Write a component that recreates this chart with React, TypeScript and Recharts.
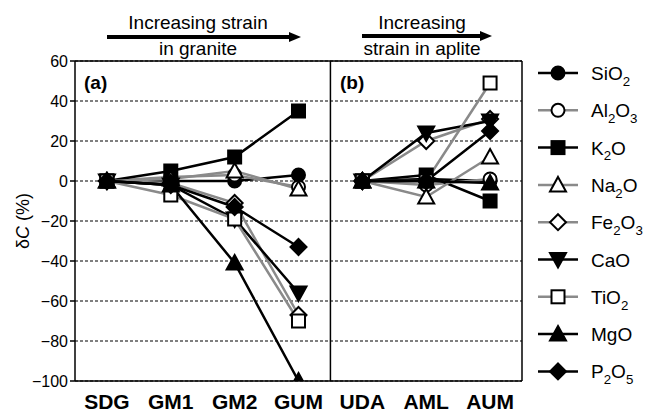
import React from "react";
import {
  LineChart,
  Line,
  XAxis,
  YAxis,
  CartesianGrid,
  ReferenceLine,
} from "recharts";

// categories: 4 granite samples (panel a) then 3 aplite samples (panel b)
const categories = ["SDG", "GM1", "GM2", "GUM", "UDA", "AML", "AUM"];
const panelSplit = 4;

// δC (%) values, one per category
const sio2 = [0, 0, 0, 3, 0, 1, 0];
const al2o3 = [0, 2, 3, -3, 0, -2, 1];
const k2o = [0, 5, 12, 35, 0, 3, -10];
const na2o = [0, 1, 5, -4, 0, -8, 12];
const fe2o3 = [0, -1, -11, -67, 0, 20, 31];
const cao = [0, -2, -19, -56, 0, 24, 30];
const tio2 = [0, -7, -19, -70, 0, 0, 49];
const mgo = [0, -2, -41, -100, 0, 0, -1];
const p2o5 = [0, -2, -13, -33, 0, 0, 25];

const yTicks = [-100, -80, -60, -40, -20, 0, 20, 40, 60];

const BLACK = "#000";
const GREY = "#8a8a8a";
const FONT = "'Liberation Sans', Arial, Helvetica, sans-serif";

type Shape = "circle" | "square" | "triUp" | "triDown" | "diamond";

const series: { name: string; values: number[]; color: string; shape: Shape; filled: boolean }[] = [
  { name: "SiO2", values: sio2, color: BLACK, shape: "circle", filled: true },
  { name: "Al2O3", values: al2o3, color: GREY, shape: "circle", filled: false },
  { name: "K2O", values: k2o, color: BLACK, shape: "square", filled: true },
  { name: "Na2O", values: na2o, color: GREY, shape: "triUp", filled: false },
  { name: "Fe2O3", values: fe2o3, color: GREY, shape: "diamond", filled: false },
  { name: "CaO", values: cao, color: BLACK, shape: "triDown", filled: true },
  { name: "TiO2", values: tio2, color: GREY, shape: "square", filled: false },
  { name: "MgO", values: mgo, color: BLACK, shape: "triUp", filled: true },
  { name: "P2O5", values: p2o5, color: BLACK, shape: "diamond", filled: true },
];

// one row per category; each oxide split in two keys so the panels don't join up
const data = categories.map((c, i) => {
  const row: Record<string, number | string | null> = { x: i, cat: c };
  series.forEach((s) => {
    row[s.name + "_a"] = i < panelSplit ? s.values[i] : null;
    row[s.name + "_b"] = i >= panelSplit ? s.values[i] : null;
  });
  return row;
});

function Marker({ shape, filled, cx, cy }: { shape: Shape; filled: boolean; cx: number; cy: number }) {
  const fill = filled ? BLACK : "#fff";
  const sw = 2;
  if (shape === "circle") return <circle cx={cx} cy={cy} r={6.5} fill={fill} stroke={BLACK} strokeWidth={sw} />;
  if (shape === "square")
    return <rect x={cx - 6.5} y={cy - 6.5} width={13} height={13} fill={fill} stroke={BLACK} strokeWidth={sw} />;
  if (shape === "diamond")
    return (
      <polygon
        points={`${cx},${cy - 8} ${cx + 8},${cy} ${cx},${cy + 8} ${cx - 8},${cy}`}
        fill={fill}
        stroke={BLACK}
        strokeWidth={sw}
      />
    );
  if (shape === "triUp")
    return (
      <polygon
        points={`${cx},${cy - 8} ${cx + 8},${cy + 6.5} ${cx - 8},${cy + 6.5}`}
        fill={fill}
        stroke={BLACK}
        strokeWidth={sw}
      />
    );
  return (
    <polygon
      points={`${cx},${cy + 8} ${cx + 8},${cy - 6.5} ${cx - 8},${cy - 6.5}`}
      fill={fill}
      stroke={BLACK}
      strokeWidth={sw}
    />
  );
}

// chemical formula with digits as subscripts
function Formula({ text, x, y, size }: { text: string; x: number; y: number; size: number }) {
  const parts = text.match(/\d+|\D+/g) || [];
  const shift = size * 0.3;
  let sub = false;
  return (
    <text x={x} y={y} fontSize={size} fontFamily={FONT} fill={BLACK}>
      {parts.map((p, i) => {
        const isNum = /\d/.test(p);
        const dy = isNum && !sub ? shift : !isNum && sub ? -shift : 0;
        sub = isNum;
        return (
          <tspan key={i} dy={dy} fontSize={isNum ? size * 0.7 : size}>
            {p}
          </tspan>
        );
      })}
    </text>
  );
}

function Arrow({ x1, x2, y }: { x1: number; x2: number; y: number }) {
  return (
    <g>
      <line x1={x1} y1={y} x2={x2 - 9} y2={y} stroke={BLACK} strokeWidth={4} />
      <polygon points={`${x2},${y} ${x2 - 12},${y - 5} ${x2 - 12},${y + 5}`} fill={BLACK} />
    </g>
  );
}

const fmtY = (v: number) => (v < 0 ? `\u2212${-v}` : `${v}`);

export default function App() {
  return (
    <div style={{ position: "absolute", left: 0, top: 0, width: 646, height: 414, background: "#fff", fontFamily: FONT }}>
      <LineChart width={646} height={414} data={data} margin={{ top: 61, right: 124, bottom: 0, left: 0 }}>
        <CartesianGrid vertical={false} stroke={BLACK} strokeDasharray="3 2" strokeWidth={1.2} />
        <XAxis
          dataKey="x"
          type="number"
          domain={[-0.5, 6.5]}
          ticks={[0, 1, 2, 3, 4, 5, 6]}
          tickFormatter={(i: number) => categories[i]}
          tickLine={false}
          tickSize={6}
          tickMargin={7}
          height={33}
          axisLine={{ stroke: BLACK, strokeWidth: 1.5 }}
          tick={{ fontSize: 21, fontWeight: "bold", fill: BLACK, fontFamily: FONT }}
          interval={0}
        />
        <YAxis
          domain={[-100, 60]}
          ticks={yTicks}
          interval={0}
          width={75}
          tickSize={5}
          tickFormatter={fmtY}
          tickLine={{ stroke: BLACK, strokeWidth: 1.5 }}
          axisLine={{ stroke: BLACK, strokeWidth: 1.5 }}
          tick={{ fontSize: 16, fill: BLACK, fontFamily: FONT }}
          allowDataOverflow
        />
        <ReferenceLine y={60} stroke={BLACK} strokeWidth={1.5} />
        <ReferenceLine x={6.5} stroke={BLACK} strokeWidth={1.5} />
        <ReferenceLine x={3.5} stroke={BLACK} strokeWidth={1.5} />
        {["_a", "_b"].flatMap((suffix) =>
          series.map((s) => (
            <Line
              key={s.name + suffix}
              dataKey={s.name + suffix}
              stroke={s.color}
              strokeWidth={2.5}
              isAnimationActive={false}
              connectNulls={false}
              activeDot={false}
              dot={(p: any) =>
                p.cy == null || p.value == null ? (
                  <g key={p.key ?? `${s.name}${suffix}${p.index}`} />
                ) : (
                  <g key={p.key ?? `${s.name}${suffix}${p.index}`}>
                    <Marker shape={s.shape} filled={s.filled} cx={p.cx} cy={p.cy} />
                  </g>
                )
              }
            />
          ))
        )}
      </LineChart>
      <svg width={646} height={414} style={{ position: "absolute", left: 0, top: 0, pointerEvents: "none" }}>
        {/* top annotations */}
        <text x={198} y={29} textAnchor="middle" fontSize={19} fontFamily={FONT}>
          Increasing strain
        </text>
        <Arrow x1={107} x2={301} y={37} />
        <text x={198} y={55} textAnchor="middle" fontSize={19} fontFamily={FONT}>
          in granite
        </text>
        <text x={422} y={29} textAnchor="middle" fontSize={19} fontFamily={FONT}>
          Increasing
        </text>
        <Arrow x1={362} x2={492} y={36} />
        <text x={422} y={55} textAnchor="middle" fontSize={19} fontFamily={FONT}>
          strain in aplite
        </text>
        {/* panel labels */}
        <text x={84} y={89} fontSize={19} fontWeight="bold" fontFamily={FONT}>
          (a)
        </text>
        <text x={340} y={89} fontSize={19} fontWeight="bold" fontFamily={FONT}>
          (b)
        </text>
        {/* y axis title */}
        <text transform="translate(29,221) rotate(-90)" textAnchor="middle" fontSize={18} fontFamily={FONT}>
          δ<tspan fontStyle="italic">C</tspan> (%)
        </text>
        {/* legend */}
        {series.map((s, i) => {
          const y = 73 + i * 37.3;
          return (
            <g key={s.name}>
              <line x1={538} y1={y} x2={578} y2={y} stroke={s.color} strokeWidth={2.5} />
              <Marker shape={s.shape} filled={s.filled} cx={558} cy={y} />
              <Formula text={s.name} x={591} y={y + 7} size={19} />
            </g>
          );
        })}
      </svg>
    </div>
  );
}
